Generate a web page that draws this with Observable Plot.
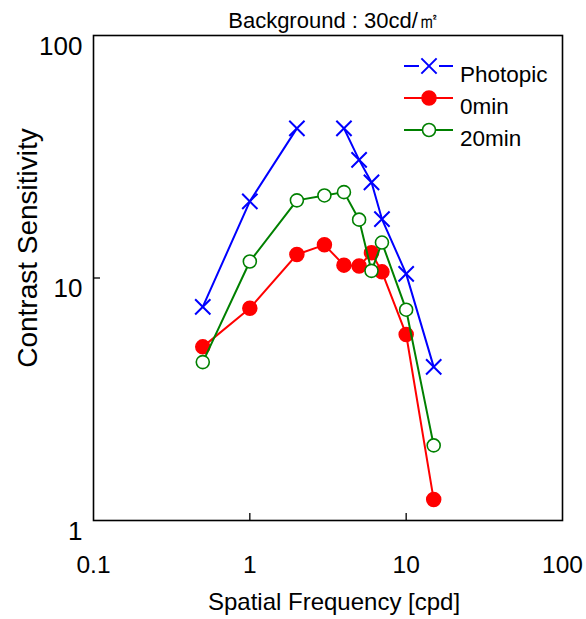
<!DOCTYPE html>
<html><head><meta charset="utf-8">
<script src="https://cdn.jsdelivr.net/npm/d3@7"></script>
<script src="https://cdn.jsdelivr.net/npm/@observablehq/plot@0.6"></script>
<style>
body{margin:0;background:#fff}
svg{font-family:"Liberation Sans",Arial,sans-serif}
</style>
</head><body><div id="chart"></div>
<script>
const title = "Background : 30cd/㎡";
const xLabel = "Spatial Frequency [cpd]";
const yLabel = "Contrast Sensitivity";
const xTicks = [0.1, 1, 10, 100];
const yTicks = [1, 10, 100];
const xInnerTicks = [1, 10];
const yInnerTicks = [10];
const seriesNames = ["Photopic", "0min", "20min"];
const seriesColors = ["#0000ff", "#ff0000", "#008000"];

const freqPhotopic = [0.5, 1, 2, 4, 5, 6, 7, 10, 15];
const photopic = [7.6, 20.7, 41.4, 41.4, 30.7, 24.8, 17.5, 10.4, 4.3];
const photopicSegment = [1, 1, 1, 2, 2, 2, 2, 2, 2];

const freqDark = [0.5, 1, 2, 3, 4, 5, 6, 7, 10, 15];
const min0 = [5.2, 7.5, 12.5, 13.7, 11.3, 11.2, 12.7, 10.6, 5.85, 1.22];
const min20 = [4.5, 11.7, 20.9, 21.9, 22.6, 17.4, 10.7, 14.0, 7.4, 2.04];

const photopicRows = freqPhotopic.map((f, i) => ({f, v: photopic[i], seg: photopicSegment[i]}));
const min0Rows = freqDark.map((f, i) => ({f, v: min0[i]}));
const min20Rows = freqDark.map((f, i) => ({f, v: min20[i]}));

const W = 586, H = 619, mL = 93, mR = 24, mT = 35, mB = 99;
const innerW = W - mL - mR, innerH = H - mT - mB, tickLen = 7;

const plot = Plot.plot({
  width: W, height: H,
  marginLeft: mL, marginRight: mR, marginTop: mT, marginBottom: mB,
  style: {fontFamily: '"Liberation Sans",Arial,sans-serif', background: "white", color: "black"},
  x: {type: "log", domain: [0.1, 100]},
  y: {type: "log", domain: [1, 100]},
  marks: [
    Plot.ruleX(xInnerTicks, {insetTop: innerH - tickLen, stroke: "black", strokeWidth: 1.3}),
    Plot.ruleY(yInnerTicks, {insetRight: innerW - tickLen, stroke: "black", strokeWidth: 1.3}),
    Plot.axisX({ticks: xTicks, tickSize: 0, tickPadding: 35, tickFormat: d => String(d), fontSize: 24.5, label: null}),
    Plot.axisY({ticks: yTicks, tickSize: 0, tickPadding: 11, dy: 11, tickFormat: d => String(d), fontSize: 26, label: null}),
    Plot.text([xLabel], {frameAnchor: "bottom", lineAnchor: "middle", textAnchor: "middle", dy: 82, dx: 6, fontSize: 24}),
    Plot.text([yLabel], {frameAnchor: "left", lineAnchor: "middle", textAnchor: "middle", dx: -65, dy: -30, rotate: -90, fontSize: 28}),
    Plot.text([title], {frameAnchor: "top", lineAnchor: "middle", textAnchor: "middle", dy: -15, dx: 6, fontSize: 22}),
    Plot.line(photopicRows, {x: "f", y: "v", z: "seg", stroke: seriesColors[0], strokeWidth: 2}),
    Plot.dot(photopicRows, {x: "f", y: "v", symbol: "times", r: 7, stroke: seriesColors[0], strokeWidth: 2}),
    Plot.line(min0Rows, {x: "f", y: "v", stroke: seriesColors[1], strokeWidth: 2}),
    Plot.dot(min0Rows, {x: "f", y: "v", r: 7, fill: seriesColors[1], stroke: seriesColors[1]}),
    Plot.line(min20Rows, {x: "f", y: "v", stroke: seriesColors[2], strokeWidth: 2}),
    Plot.dot(min20Rows, {x: "f", y: "v", r: 6.5, fill: "white", stroke: seriesColors[2], strokeWidth: 1.6}),
    Plot.frame({stroke: "black", strokeWidth: 1.6})
  ]
});

// legend
const svg = d3.select(plot);
const lg = svg.append("g").attr("font-size", 22.5).attr("fill", "black").attr("text-anchor", "start");
const lgX0 = 404, lgX1 = 453, lgMark = 429, lgText = 460, lgY0 = 66, lgStep = 32;
seriesNames.forEach((name, i) => {
  const y = lgY0 + i * lgStep;
  const c = seriesColors[i];
  if (i === 0) {
    lg.append("line").attr("x1", lgX0).attr("x2", lgMark - 10).attr("y1", y).attr("y2", y).attr("stroke", c).attr("stroke-width", 2);
    lg.append("line").attr("x1", lgMark + 10).attr("x2", lgX1).attr("y1", y).attr("y2", y).attr("stroke", c).attr("stroke-width", 2);
    lg.append("path").attr("d", d3.symbol(d3.symbolTimes, 7 * 7 * Math.PI)()).attr("transform", `translate(${lgMark},${y})`).attr("fill", "none").attr("stroke", c).attr("stroke-width", 2);
  } else {
    lg.append("line").attr("x1", lgX0).attr("x2", lgX1).attr("y1", y).attr("y2", y).attr("stroke", c).attr("stroke-width", 2);
    lg.append("circle").attr("cx", lgMark).attr("cy", y).attr("r", i === 1 ? 7 : 6.5)
      .attr("fill", i === 1 ? c : "white").attr("stroke", c).attr("stroke-width", 1.6);
  }
  lg.append("text").attr("x", lgText).attr("y", y + 8).attr("dy", "0.35em").text(name);
});

document.getElementById("chart").appendChild(plot);
</script>
</body></html>
